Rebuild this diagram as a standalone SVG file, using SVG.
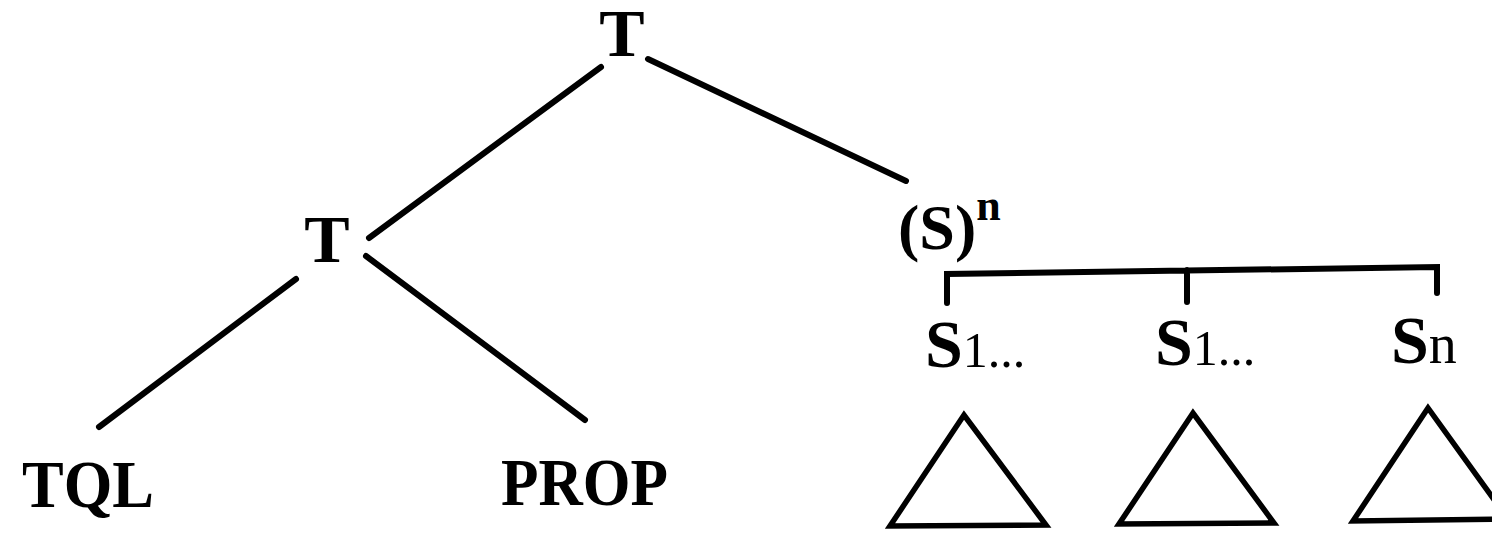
<svg xmlns="http://www.w3.org/2000/svg" width="1492" height="536" viewBox="0 0 1492 536">
<style>
.b{font-family:"Liberation Serif","Times New Roman",serif;font-weight:bold;fill:#000}
.r{font-family:"Liberation Serif","Times New Roman",serif;font-weight:normal;fill:#000}
.ln{stroke:#000;stroke-width:6;stroke-linecap:round;fill:none}
.tri{stroke:#000;stroke-width:5.5;fill:none;stroke-linejoin:miter}
</style>
<rect width="1492" height="536" fill="#fff"/>
<g id="connectors">
<line class="ln" x1="601" y1="67" x2="369" y2="238"/>
<line class="ln" x1="648" y1="59" x2="906" y2="181"/>
<line class="ln" x1="296" y1="279" x2="99" y2="427"/>
<line class="ln" x1="366" y1="256" x2="585" y2="420"/>
<path class="ln" d="M947,303 L947,274 L1437,267 L1437,293 M1187,270 L1187,302" stroke-linecap="butt"/>
</g>
<g id="node-T-root"><text class="b" x="622" y="56" font-size="68" text-anchor="middle">T</text></g>
<g id="node-T-left"><text class="b" x="327" y="262" font-size="68" text-anchor="middle">T</text></g>
<g id="node-TQL"><text class="b" x="22" y="507" font-size="68" textLength="132" lengthAdjust="spacingAndGlyphs">TQL</text></g>
<g id="node-PROP"><text class="b" x="501" y="505" font-size="68" textLength="167" lengthAdjust="spacingAndGlyphs">PROP</text></g>
<g id="node-Sn-group"><text class="b" x="898" y="249" font-size="64">(S)<tspan font-size="44" dy="-29">n</tspan></text></g>
<g id="node-S1a"><text class="b" x="925" y="367" font-size="68">S<tspan class="r" font-size="50" font-weight="normal">1...</tspan></text></g>
<g id="node-S1b"><text class="b" x="1155" y="365" font-size="68">S<tspan class="r" font-size="50" font-weight="normal">1...</tspan></text></g>
<g id="node-Sn"><text class="b" x="1391" y="363" font-size="68">S<tspan font-size="56" font-weight="normal">n</tspan></text></g>
<g id="tri1"><polygon class="tri" points="964,415 890,526 1046,525"/></g>
<g id="tri2"><polygon class="tri" points="1193,413 1119,524 1274,523"/></g>
<g id="tri3"><polygon class="tri" points="1428,408 1353,521 1508,519"/></g>
</svg>
